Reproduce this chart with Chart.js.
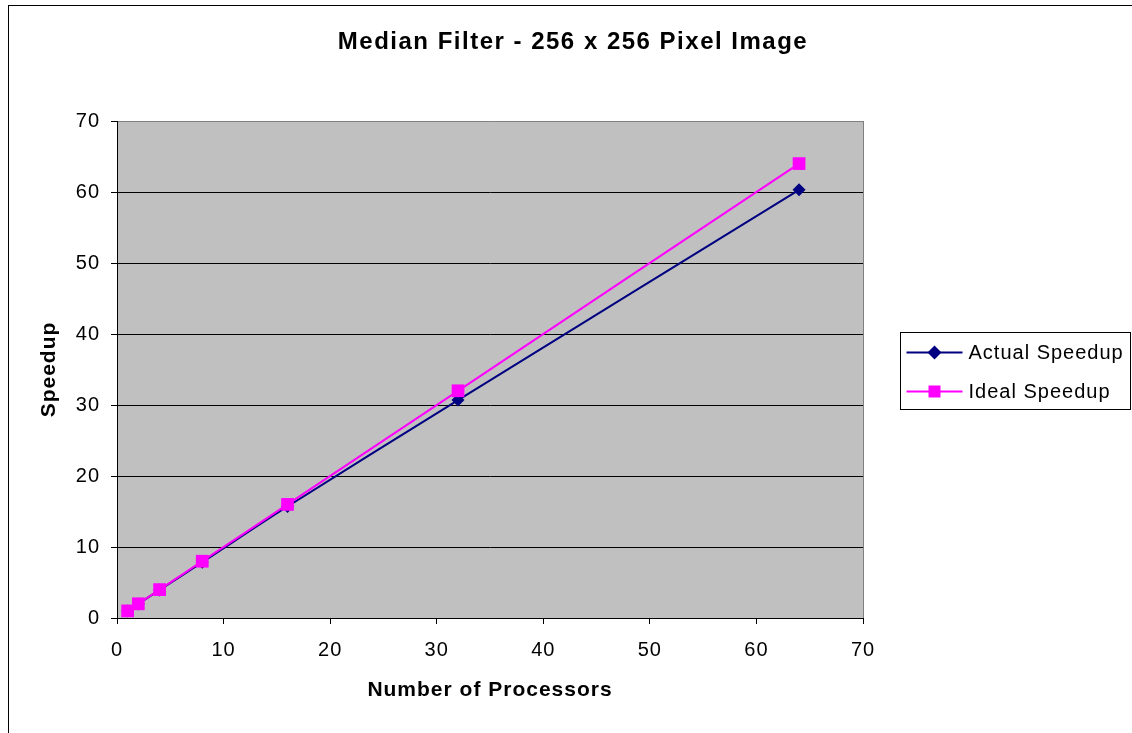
<!DOCTYPE html>
<html>
<head>
<meta charset="utf-8">
<script src="https://cdn.jsdelivr.net/npm/chart.js@4"></script>
<style>
  html, body { margin:0; padding:0; background:#fff; overflow:hidden; }
  #wrap { position:absolute; left:0; top:0; width:1132px; height:733px; }
</style>
</head>
<body>
<div id="wrap"><canvas id="chart" width="1132" height="733"></canvas></div>
<script>
/* ==== Data ==== */
const processors = [1, 2, 4, 8, 16, 32, 64];
const actualSpeedup = [1, 1.98, 3.95, 7.85, 15.7, 30.7, 60.3];
const idealSpeedup = [1, 2, 4, 8, 16, 32, 64];
const axisTicks = [0, 10, 20, 30, 40, 50, 60, 70];
const chartTitle = 'Median Filter - 256 x 256 Pixel Image';

const FONT = "'Liberation Sans', Arial, sans-serif";
const NAVY = '#000080';
const PINK = '#ff00ff';

function points(ys){ return processors.map((x, i) => ({ x: x, y: ys[i] })); }

/* ==== Plugins: frame, plot background, title, custom legend ==== */
const excelLook = {
  id: 'excelLook',
  beforeLayout(chart){ chart.ctx.letterSpacing = '1px'; },
  beforeDraw(chart){
    const ctx = chart.ctx, a = chart.chartArea;
    ctx.letterSpacing = '1px';
    ctx.save();
    ctx.strokeStyle = '#000'; ctx.lineWidth = 1;
    ctx.strokeRect(8.5, 5.5, 1400, 1000);
    ctx.fillStyle = '#c0c0c0';
    ctx.fillRect(a.left, a.top, a.right - a.left, a.bottom - a.top);

    // chart title, centred on the whole frame
    ctx.letterSpacing = '1.5px';
    ctx.fillStyle = '#000';
    ctx.font = 'bold 24px ' + FONT;
    ctx.textAlign = 'center';
    ctx.textBaseline = 'middle';
    ctx.fillText(chartTitle, 573, 42);
    ctx.restore();
  },
  afterDraw(chart){
    const ctx = chart.ctx, a = chart.chartArea;
    ctx.save();
    // gray right edge of plot
    ctx.strokeStyle = '#808080'; ctx.lineWidth = 1;
    ctx.beginPath(); ctx.moveTo(a.right + 0.5, a.top); ctx.lineTo(a.right + 0.5, a.bottom); ctx.stroke();

    // legend box
    const bx = a.right + 37.5, by = 332.5, bw = 230, bh = 77;
    ctx.strokeStyle = '#000';
    ctx.strokeRect(bx, by, bw, bh);
    const items = [chart.data.datasets[0], chart.data.datasets[1]];
    items.forEach((ds, i) => {
      const y = by + 20 + i * 39;
      ctx.strokeStyle = ds.borderColor; ctx.lineWidth = 2;
      ctx.beginPath(); ctx.moveTo(bx + 6, y); ctx.lineTo(bx + 62, y); ctx.stroke();
      const cx = bx + 34;
      ctx.fillStyle = ds.backgroundColor;
      if (ds.pointStyle === 'rectRot'){
        ctx.beginPath();
        ctx.moveTo(cx, y - 7); ctx.lineTo(cx + 7, y); ctx.lineTo(cx, y + 7); ctx.lineTo(cx - 7, y);
        ctx.closePath(); ctx.fill();
      } else {
        ctx.fillRect(cx - 6, y - 6, 12, 12);
      }
      ctx.fillStyle = '#000';
      ctx.font = '20px ' + FONT;
      ctx.textBaseline = 'middle';
      ctx.fillText(ds.label, bx + 68, y + 1);
    });
    ctx.restore();
  }
};

const ctx = document.getElementById('chart').getContext('2d');
new Chart(ctx, {
  type: 'line',
  data: {
    datasets: [
      {
        label: 'Actual Speedup', data: points(actualSpeedup), order: 1,
        borderColor: NAVY, backgroundColor: NAVY, borderWidth: 2,
        pointStyle: 'rectRot', pointRadius: 6.5, pointBorderWidth: 0,
        tension: 0.35
      },
      {
        label: 'Ideal Speedup', data: points(idealSpeedup), order: 0,
        borderColor: PINK, backgroundColor: PINK, borderWidth: 2,
        pointStyle: 'rect', pointRadius: 9, pointBorderWidth: 0,
        tension: 0.35
      }
    ]
  },
  options: {
    responsive: false,
    animation: false,
    layout: { padding: { left: 0, right: 269, top: 121, bottom: 0 } },
    plugins: {
      legend: { display: false },
      tooltip: { enabled: false },
      title: { display: false }
    },
    scales: {
      x: {
        type: 'linear', min: 0, max: 70,
        afterBuildTicks(s){ s.ticks = axisTicks.map(v => ({ value: v })); },
        afterFit(s){ s.height = 115; },
        grid: { drawOnChartArea: false, tickColor: '#000', tickLength: 6, tickWidth: 1 },
        border: { color: '#000', width: 1 },
        ticks: { color: '#000', font: { family: FONT, size: 20 }, padding: 14, maxRotation: 0 },
        title: {
          display: true, text: 'Number of Processors', color: '#000',
          font: { family: FONT, size: 21, weight: 'bold' },
          padding: { top: 0, bottom: 30 }
        }
      },
      y: {
        type: 'linear', min: 0, max: 70,
        afterBuildTicks(s){ s.ticks = axisTicks.map(v => ({ value: v })); },
        afterFit(s){ s.width = 117; },
        grid: {
          color: c => c.tick && c.tick.value === 70 ? '#808080' : '#000',
          tickColor: '#000', tickLength: 6, lineWidth: 1
        },
        border: { color: '#000', width: 1 },
        ticks: { color: '#000', font: { family: FONT, size: 20 }, padding: 11 },
        title: {
          display: true, text: 'Speedup', color: '#000',
          font: { family: FONT, size: 21, weight: 'bold' },
          padding: { top: 37, bottom: 0 }
        }
      }
    }
  },
  plugins: [excelLook]
});
</script>
</body>
</html>
